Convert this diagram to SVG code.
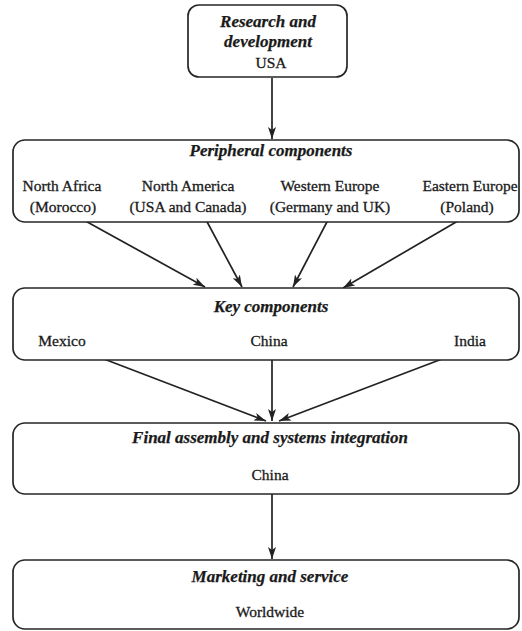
<svg xmlns="http://www.w3.org/2000/svg" width="522" height="631" viewBox="0 0 522 631">
  <style>
    .box { fill: #ffffff; stroke: #262626; stroke-width: 1.7; }
    .title { font-family: "Liberation Serif", "DejaVu Serif", serif; font-weight: bold; font-style: italic; font-size: 17px; fill: #1a1a1a; stroke: #1a1a1a; stroke-width: 0.25; text-anchor: middle; }
    .label { font-family: "Liberation Serif", "DejaVu Serif", serif; font-size: 15.5px; fill: #1a1a1a; stroke: #1a1a1a; stroke-width: 0.3; text-anchor: middle; }
    .link { stroke: #222222; stroke-width: 1.7; fill: none; marker-end: url(#arrow); }
  </style>
  <defs>
    <marker id="arrow" viewBox="0 0 12 8" refX="12" refY="4" markerWidth="12" markerHeight="8" markerUnits="userSpaceOnUse" orient="auto">
      <path d="M0,0 L12,4 L0,8 L3,4 Z" fill="#222222"/>
    </marker>
  </defs>
  <rect width="522" height="631" fill="#ffffff"/>

  <g id="connectors">
    <line class="link" x1="272" y1="78" x2="272" y2="139"/>
    <line class="link" x1="80" y1="218" x2="205" y2="287"/>
    <line class="link" x1="205" y1="218" x2="242" y2="287"/>
    <line class="link" x1="329" y1="218" x2="293" y2="287"/>
    <line class="link" x1="463" y1="218" x2="343" y2="288"/>
    <line class="link" x1="83" y1="351" x2="266" y2="421"/>
    <line class="link" x1="272" y1="353" x2="272" y2="421"/>
    <line class="link" x1="463" y1="351" x2="279" y2="421"/>
    <line class="link" x1="272" y1="487" x2="272" y2="559"/>
  </g>

  <g id="research">
    <rect class="box" x="188" y="5" width="159" height="72" rx="11"/>
    <text class="title" x="268" y="27">Research and</text>
    <text class="title" x="268" y="47">development</text>
    <text class="label" x="271" y="68" font-size="13.5">USA</text>
  </g>

  <g id="peripheral">
    <rect class="box" x="13" y="140" width="506" height="82" rx="12"/>
    <text class="title" x="271" y="156">Peripheral components</text>
    <text class="label" x="62" y="191">North Africa</text>
    <text class="label" x="63" y="212">(Morocco)</text>
    <text class="label" x="188" y="191">North America</text>
    <text class="label" x="188" y="212">(USA and Canada)</text>
    <text class="label" x="330" y="191">Western Europe</text>
    <text class="label" x="330" y="212">(Germany and UK)</text>
    <text class="label" x="470" y="191">Eastern Europe</text>
    <text class="label" x="467" y="212">(Poland)</text>
  </g>

  <g id="key">
    <rect class="box" x="13" y="288" width="506" height="72" rx="12"/>
    <text class="title" x="271" y="312">Key components</text>
    <text class="label" x="62" y="346">Mexico</text>
    <text class="label" x="269" y="346">China</text>
    <text class="label" x="470" y="346">India</text>
  </g>

  <g id="assembly">
    <rect class="box" x="13" y="423" width="506" height="71" rx="12"/>
    <text class="title" x="270" y="443">Final assembly and systems integration</text>
    <text class="label" x="270" y="480">China</text>
  </g>

  <g id="marketing">
    <rect class="box" x="13" y="560" width="506" height="69" rx="12"/>
    <text class="title" x="270" y="582">Marketing and service</text>
    <text class="label" x="270" y="617">Worldwide</text>
  </g>
</svg>
